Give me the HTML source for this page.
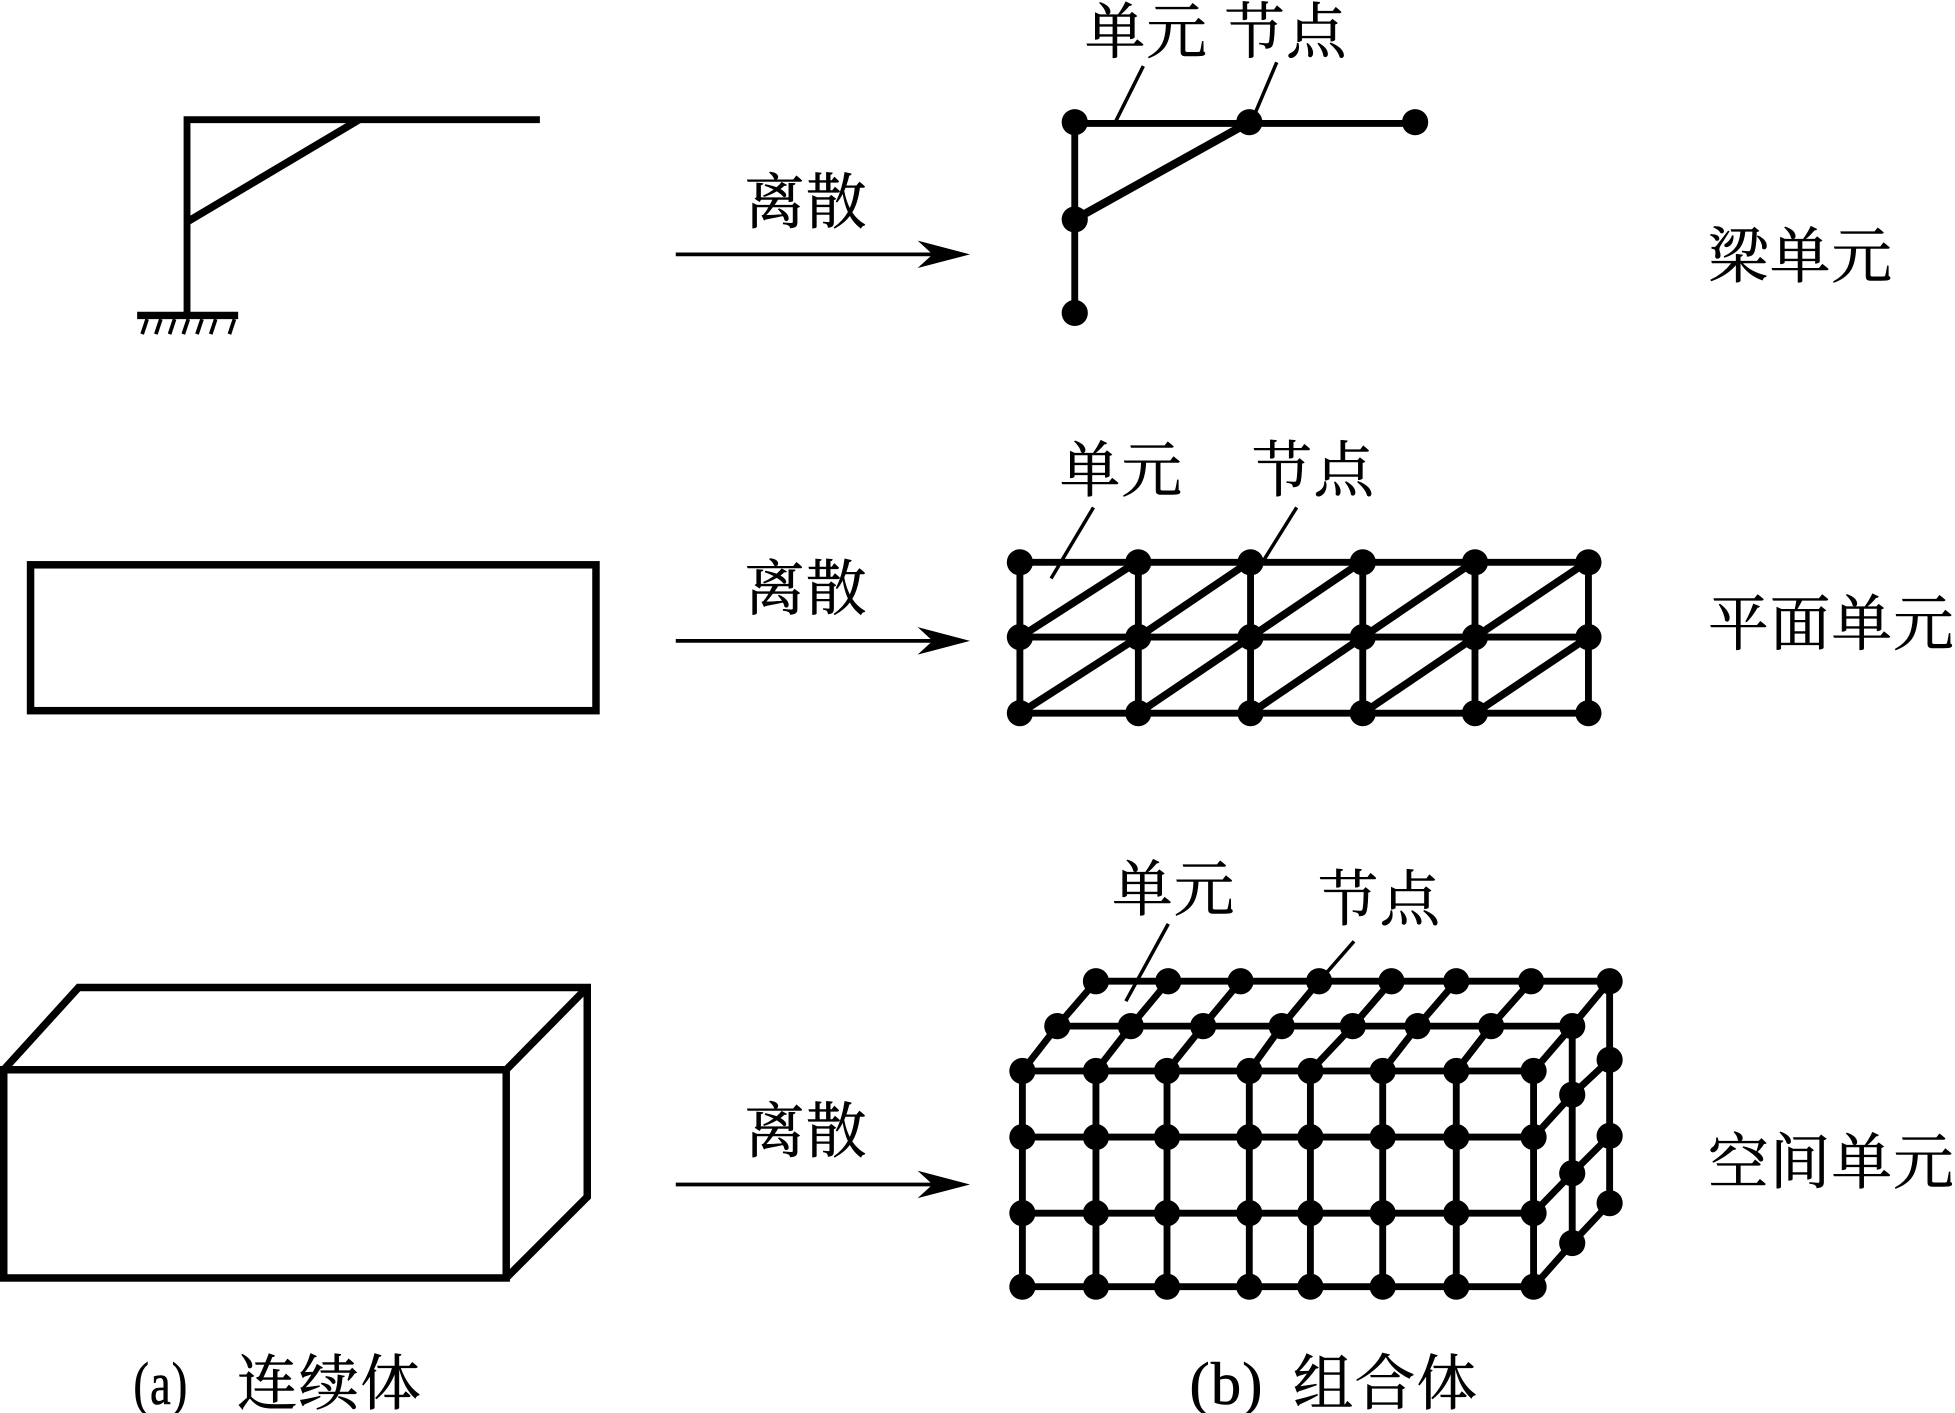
<!DOCTYPE html>
<html lang="zh">
<head>
<meta charset="utf-8">
<title>离散</title>
<style>
html,body{margin:0;padding:0;background:#fff}
svg{display:block;width:1955px;height:1413px}
text{font-family:"Liberation Serif","Noto Serif CJK SC",serif;font-size:48.500px;fill:#000;letter-spacing:1px;stroke:#000;stroke-width:.5px}
</style>
</head>
<body>
<svg xmlns="http://www.w3.org/2000/svg" width="1955" height="1413" viewBox="0 0 1568 1133.3">
<rect x="0" y="0" width="1568" height="1134" fill="#fff"/>

<g fill="none" stroke="#000" stroke-width="5.500" stroke-linejoin="miter">
  <!-- continuum frame -->
  <path d="M433 96H150V252"/>
  <path d="M288 96L150 178" stroke-width="6"/>
  <path d="M110 253H191" stroke-width="6"/>
  <path d="M118 256L114 268M129 256L125 268M140 256L136 268M151 256L147 268M162 256L158 268M173 256L169 268M188 256L184 268" stroke-width="3"/>
  <!-- rectangle -->
  <rect x="24.500" y="453" width="453.500" height="117" stroke-width="6"/>
  <!-- box -->
  <rect x="3" y="858" width="403" height="167" stroke-width="6"/>
  <path d="M3 858L63 792H471V960L406 1025M471 792L406 858" stroke-width="6"/>

  <!-- beam model -->
  <path d="M1135 99H862V251"/>
  <path d="M1002 98L862 176" stroke-width="6.500"/>
  <path d="M917 53L895 97M1024 50L1007 90" stroke-width="2.800"/>

  <!-- plane mesh -->
  <path d="M818 451H1274M818 511H1274M818 572H1274M818 450V572M913 450V572M1003 450V572M1093 450V572M1183 450V572M1274 450V572"/>
  <path d="M818 511L913 450M913 511L1003 450M1003 511L1093 450M1093 511L1183 450M1183 511L1274 450M818 572L913 511M913 572L1003 511M1003 572L1093 511M1093 572L1183 511M1183 572L1274 511" stroke-width="6"/>
  <path d="M877 407L843 464M1040 407L1010 455" stroke-width="2.800"/>

  <!-- spatial mesh -->
  <path d="M820 859H1230M820 912H1230M820 973H1230M820 1032H1230M848 823H1261M879 787H1291"/>
  <path d="M820 859V1032M879 859V1032M936 859V1032M1002 859V1032M1051 859V1032M1109 859V1032M1168 859V1032M1230 859V1032M1261 823V997M1291 787V965"/>
  <path d="M820 859L848 823L879 787M879 859L907 823L937 787M936 859L965 823L995 787M1002 859L1028 823L1058 787M1051 859L1085 823L1116 787M1109 859L1137 823L1168 787M1168 859L1196 823L1228 787M1230 859L1261 823L1291 787M1230 912L1261 878L1291 850M1230 973L1261 941L1291 911M1230 1032L1261 997L1291 965"/>
  <path d="M937 741L903 803M1086 755L1058 787" stroke-width="2.800"/>

  <!-- arrows -->
  <path d="M542 204H750M542 514H750M542 950H750" stroke-width="3"/>
</g>

<g fill="#000">
  <path d="M778 204L736 193L748 204L736 215Z"/>
  <path d="M778 514L736 503L748 514L736 525Z"/>
  <path d="M778 950L736 939L748 950L736 961Z"/>
</g>

<!-- nodes -->
<g fill="none" stroke="#000" stroke-width="21" stroke-linecap="round">
  <path d="M862 98h0M1002 98h0M1135 98h0M862 176h0M862 251h0"/>
  <path d="M818 451h0M913 451h0M1003 451h0M1093 451h0M1183 451h0M1274 451h0M818 511h0M913 511h0M1003 511h0M1093 511h0M1183 511h0M1274 511h0M818 572h0M913 572h0M1003 572h0M1093 572h0M1183 572h0M1274 572h0"/>
  <path d="M820 859h0M879 859h0M936 859h0M1002 859h0M1051 859h0M1109 859h0M1168 859h0M1230 859h0M820 912h0M879 912h0M936 912h0M1002 912h0M1051 912h0M1109 912h0M1168 912h0M1230 912h0M820 973h0M879 973h0M936 973h0M1002 973h0M1051 973h0M1109 973h0M1168 973h0M1230 973h0M820 1032h0M879 1032h0M936 1032h0M1002 1032h0M1051 1032h0M1109 1032h0M1168 1032h0M1230 1032h0"/>
  <path d="M848 823h0M907 823h0M965 823h0M1028 823h0M1085 823h0M1137 823h0M1196 823h0M1261 823h0M879 787h0M937 787h0M995 787h0M1058 787h0M1116 787h0M1168 787h0M1228 787h0M1291 787h0"/>
  <path d="M1291 850h0M1291 911h0M1291 965h0M1261 878h0M1261 941h0M1261 997h0"/>
</g>

<!-- labels -->
<text x="597" y="179">离散</text>
<text x="597" y="489">离散</text>
<text x="597" y="924">离散</text>

<text x="870" y="42">单元</text>
<text x="982" y="42">节点</text>
<text x="850" y="394">单元</text>
<text x="1004" y="394">节点</text>
<text x="892" y="730">单元</text>
<text x="1057" y="738">节点</text>

<text x="1370" y="222">梁单元</text>
<text x="1370" y="517">平面单元</text>
<text x="1370" y="949">空间单元</text>

<text x="107" y="1126" textLength="44" lengthAdjust="spacingAndGlyphs">(a)</text>
<text x="190" y="1126">连续体</text>
<text x="954" y="1126">(b)</text>
<text x="1037" y="1126">组合体</text>
</svg>
</body>
</html>
